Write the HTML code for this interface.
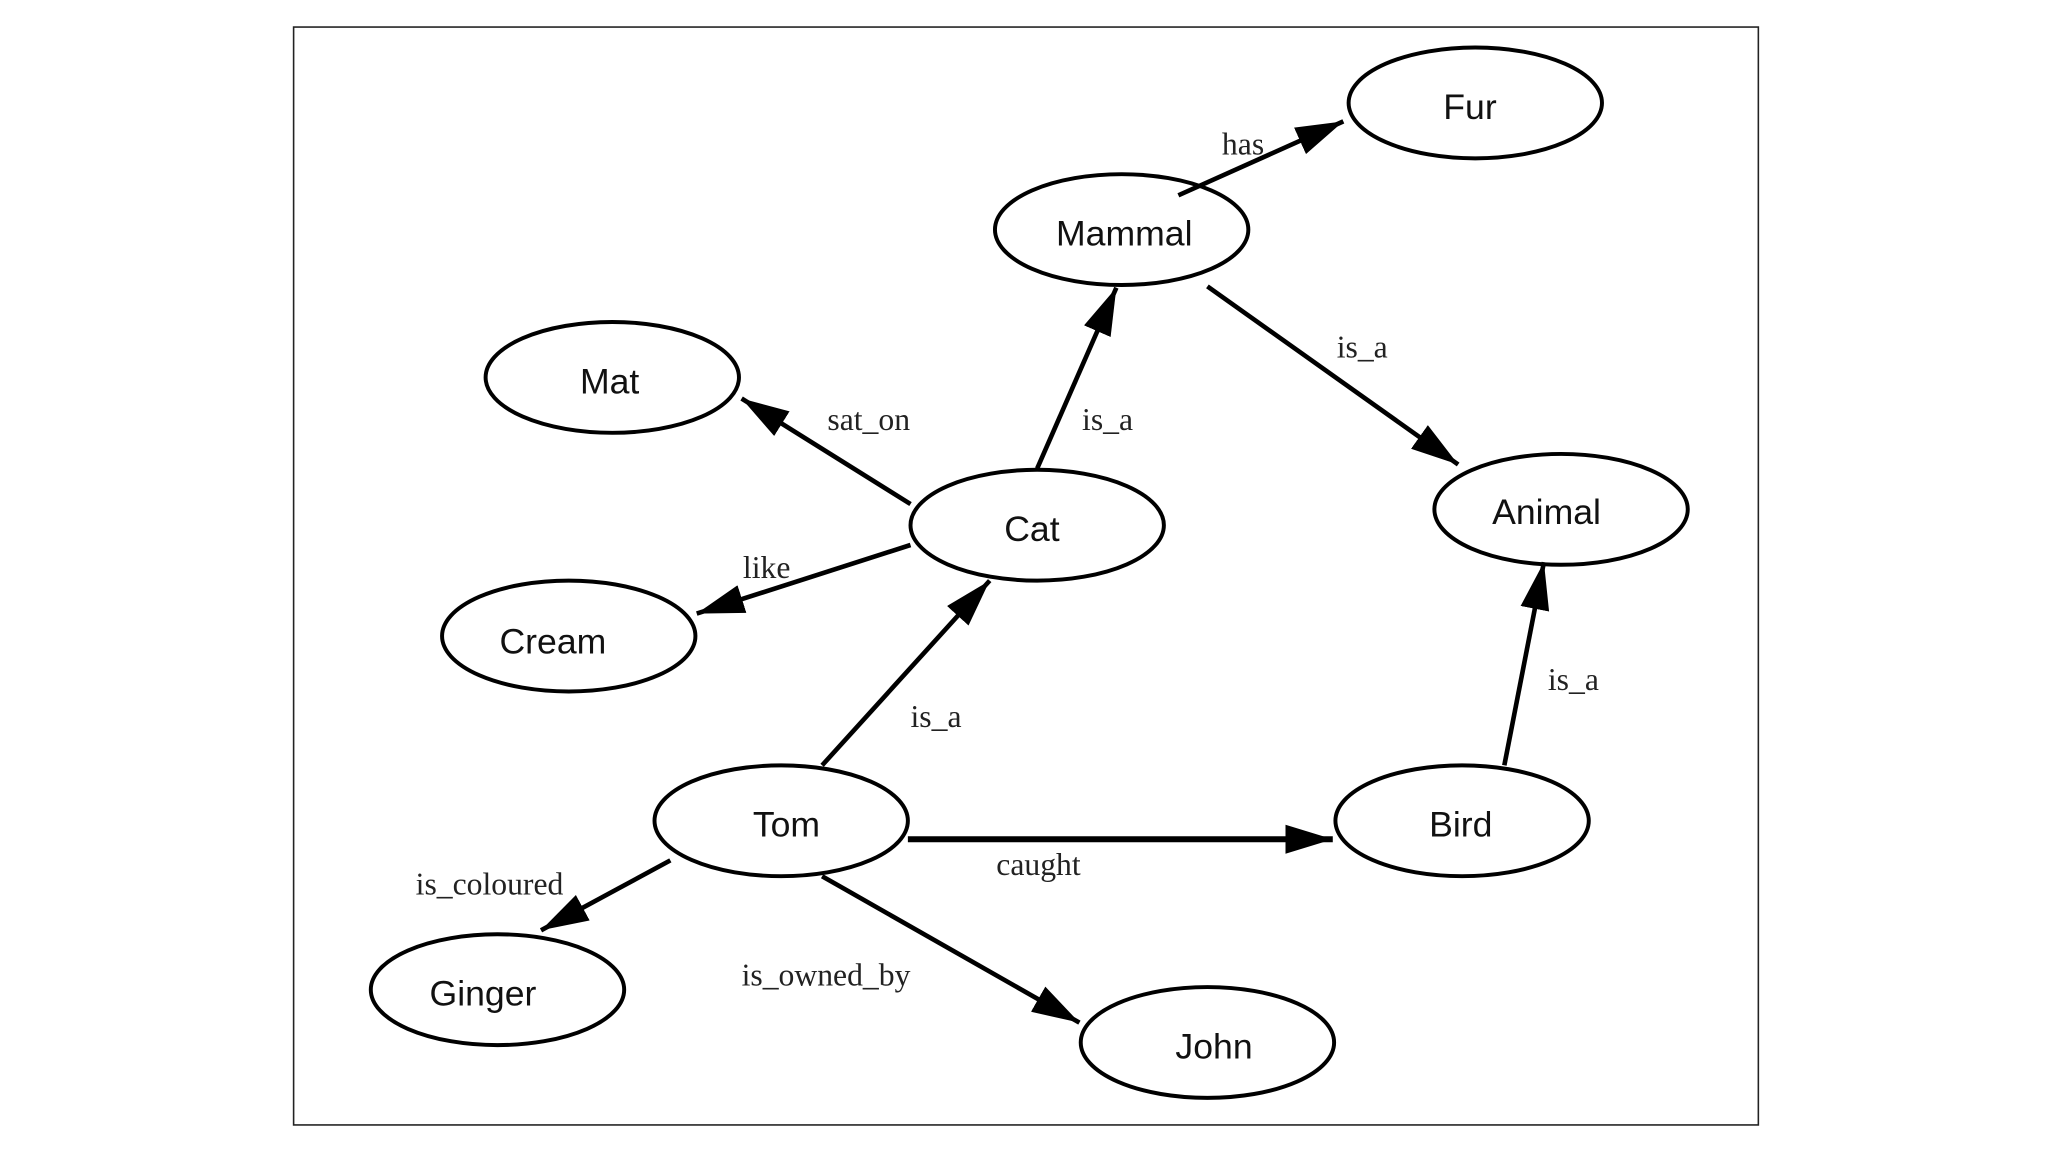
<!DOCTYPE html>
<html><head><meta charset="utf-8"><style>
html,body{margin:0;padding:0;background:#fff;}
svg{display:block;}
.n{font-family:"Liberation Sans",sans-serif;font-size:27px;text-anchor:middle;dominant-baseline:central;fill:#111;}
.e{font-family:"Liberation Serif",serif;font-size:24px;fill:#222;}
</style></head><body>
<svg width="2048" height="1152" viewBox="0 0 1552 873" xmlns="http://www.w3.org/2000/svg">
<defs>
<marker id="a" markerUnits="userSpaceOnUse" markerWidth="40" markerHeight="24" refX="36" refY="11" orient="auto">
<path d="M0,0 L36,11 L0,22 z" fill="#000"/>
</marker>
</defs>
<rect x="222.5" y="20.5" width="1110" height="832" fill="none" stroke="#222" stroke-width="1.2"/>
<g fill="#fff" stroke="#000" stroke-width="3">
<ellipse cx="1118" cy="78" rx="96" ry="42"/>
<ellipse cx="850" cy="174" rx="96" ry="42"/>
<ellipse cx="464" cy="286" rx="96" ry="42"/>
<ellipse cx="786" cy="398" rx="96" ry="42"/>
<ellipse cx="1183" cy="386" rx="96" ry="42"/>
<ellipse cx="431" cy="482" rx="96" ry="42"/>
<ellipse cx="592" cy="622" rx="96" ry="42"/>
<ellipse cx="1108" cy="622" rx="96" ry="42"/>
<ellipse cx="377" cy="750" rx="96" ry="42"/>
<ellipse cx="915" cy="790" rx="96" ry="42"/>
</g>
<g stroke="#000" stroke-width="3.5" marker-end="url(#a)">
<line x1="893" y1="148" x2="1018" y2="92"/>
<line x1="915" y1="217" x2="1105" y2="352"/>
<line x1="786" y1="355" x2="846" y2="218"/>
<line x1="690" y1="382" x2="562" y2="302"/>
<line x1="690" y1="413" x2="528" y2="465"/>
<line x1="623" y1="580" x2="750" y2="440"/>
<line x1="688" y1="636" x2="1010" y2="636" stroke-width="4.5"/>
<line x1="1140" y1="580" x2="1170" y2="426"/>
<line x1="508" y1="652" x2="410" y2="705"/>
<line x1="623" y1="664" x2="818" y2="775"/>
</g>
<g class="n">
<text x="1114" y="81">Fur</text>
<text x="852" y="177">Mammal</text>
<text x="462" y="289">Mat</text>
<text x="782" y="401">Cat</text>
<text x="1172" y="388">Animal</text>
<text x="419" y="486">Cream</text>
<text x="596" y="625">Tom</text>
<text x="1107" y="625">Bird</text>
<text x="366" y="753">Ginger</text>
<text x="920" y="793">John</text>
</g>
<g class="e">
<text x="926" y="117">has</text>
<text x="1013" y="271">is_a</text>
<text x="820" y="326">is_a</text>
<text x="627" y="326">sat_on</text>
<text x="563" y="438">like</text>
<text x="690" y="551">is_a</text>
<text x="755" y="663">caught</text>
<text x="1173" y="523">is_a</text>
<text x="315" y="678">is_coloured</text>
<text x="562" y="747">is_owned_by</text>
</g>
</svg>
</body></html>
